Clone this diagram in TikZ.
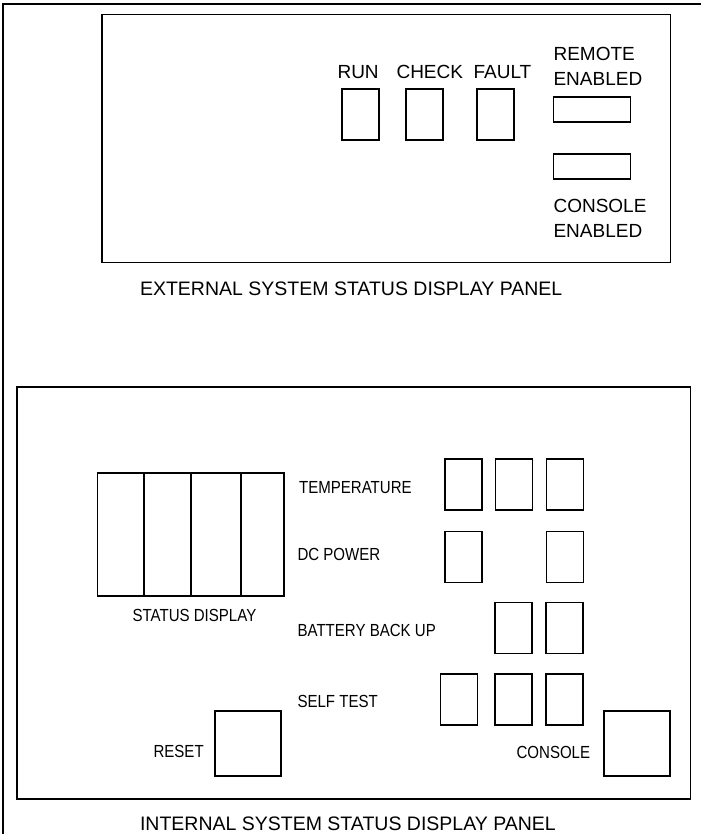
\documentclass[tikz,border=0pt]{standalone}
\usepackage{fontspec}
\usepackage{graphicx}
\setmainfont{Liberation Sans}
\newcommand\cnd[1]{\scalebox{0.86}[1]{#1}}
\begin{document}
\begin{tikzpicture}[x=1pt,y=-1pt,line width=1.1pt,
  lamp/.style={draw,minimum width=37pt,minimum height=51pt,inner sep=0pt},
  wide/.style={draw,minimum width=77pt,minimum height=25pt,inner sep=0pt},
  sq/.style={draw,minimum width=66pt,minimum height=65pt,inner sep=0pt},
  panel/.style={draw,inner sep=0pt},
  extlbl/.style={anchor=base west,inner sep=0pt,font=\fontsize{19}{19}\selectfont},
  caplbl/.style={anchor=base west,inner sep=0pt,font=\fontsize{19.5}{19.5}\selectfont},
  intlbl/.style={anchor=base west,inner sep=0pt,font=\fontsize{17.5}{17.5}\selectfont}]
\useasboundingbox (0,0) rectangle (701,834);
% outer frame
\coordinate (fa) at (3,834);
\coordinate (fb) at (3,4);
\coordinate (fc) at (701,4);
\draw (fa) -- (fb) -- (fc);
% external panel
\node[panel,minimum width=568.5pt,minimum height=247.5pt] (ext) at (386.25,138.5) {};
\node[lamp] (run) at (360.5,114.5) {};
\node[lamp] (check) at (424.5,114.5) {};
\node[lamp] (fault) at (495.5,114.5) {};
\node[wide] (remote) at (592,109.5) {};
\node[wide] (consoleen) at (592,166.5) {};
\node[extlbl] (lrun) at (337,79) {RUN};
\node[extlbl] (lcheck) at (396,79) {CHECK};
\node[extlbl] (lfault) at (473,79) {FAULT};
\node[extlbl] (lrem1) at (553,60.5) {REMOTE};
\node[extlbl] (lrem2) at (553,86) {ENABLED};
\node[extlbl] (lcon1) at (553,213) {CONSOLE};
\node[extlbl] (lcon2) at (553,237.5) {ENABLED};
\node[caplbl] (capext) at (139.5,295) {EXTERNAL SYSTEM STATUS DISPLAY PANEL};
% internal panel
\node[panel,minimum width=673.5pt,minimum height=412pt] (int) at (353.75,593) {};
\node[panel,minimum width=186.5pt,minimum height=123pt] (sd) at (190.75,534.5) {};
\coordinate (d1) at (144,534.5);
\coordinate (d2) at (191,534.5);
\coordinate (d3) at (241,534.5);
\draw (d1 |- sd.north) -- (d1 |- sd.south);
\draw (d2 |- sd.north) -- (d2 |- sd.south);
\draw (d3 |- sd.north) -- (d3 |- sd.south);
\node[lamp] (t1) at (463.5,484.5) {};
\node[lamp] (t2) at (514,484.5) {};
\node[lamp] (t3) at (565,484.5) {};
\node[lamp] (p1) at (463.5,557) {};
\node[lamp] (p3) at (565,557) {};
\node[lamp] (b2) at (513.5,628) {};
\node[lamp] (b3) at (564.5,628) {};
\node[lamp] (s1) at (459,699.5) {};
\node[lamp] (s2) at (513.5,699.5) {};
\node[lamp] (s3) at (564.5,699.5) {};
\node[sq] (reset) at (248,743.5) {};
\node[sq] (console) at (637,743.5) {};
\node[intlbl] (ltemp) at (298.5,493) {\cnd{TEMPERATURE}};
\node[intlbl] (ldc) at (297,560) {\cnd{DC POWER}};
\node[intlbl] (lsd) at (132,621.5) {\cnd{STATUS DISPLAY}};
\node[intlbl] (lbat) at (297,636) {\cnd{BATTERY BACK UP}};
\node[intlbl] (lself) at (297,707) {\cnd{SELF TEST}};
\node[intlbl] (lreset) at (153,757.5) {\cnd{RESET}};
\node[intlbl] (lcons) at (516,758) {\cnd{CONSOLE}};
\node[caplbl] (capint) at (139.5,830) {INTERNAL SYSTEM STATUS DISPLAY PANEL};
\end{tikzpicture}
\end{document}
